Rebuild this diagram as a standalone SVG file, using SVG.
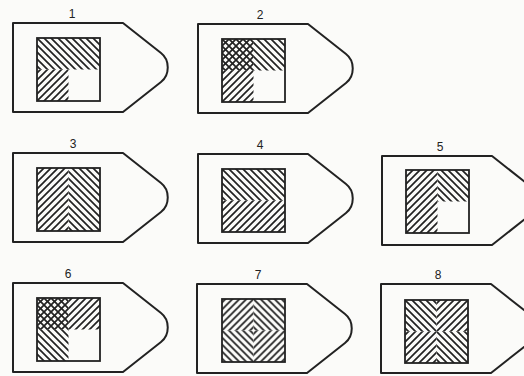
<svg xmlns="http://www.w3.org/2000/svg" width="524" height="376" viewBox="0 0 524 376">
<style>
.bg{fill:#fbfbf9}
.tag{fill:#fbfbf9;stroke:#222;stroke-width:2;stroke-linejoin:round}
.sq{fill:none;stroke:#222;stroke-width:1.8}
.h{stroke:#222;stroke-width:1.7;fill:none}
.lbl{font-family:"Liberation Sans",Arial,sans-serif;font-size:12px;fill:#222;text-anchor:middle}
</style>
<defs>
<path id="tagShape" d="M0,0 H110 L148,30 C157,37 157,52 148,59 L110,89 H0 Z"/>
<pattern id="hb" width="7" height="7" patternUnits="userSpaceOnUse"><path class="h" d="M-1,-1 L8,8 M-1,6 L1,8 M6,-1 L8,1"/></pattern>
<pattern id="hf" width="7" height="7" patternUnits="userSpaceOnUse"><path class="h" d="M-1,8 L8,-1 M-1,1 L1,-1 M6,8 L8,6"/></pattern>
<pattern id="hb2" width="7" height="7" patternUnits="userSpaceOnUse" patternTransform="translate(3.5,0)"><path class="h" d="M-1,-1 L8,8 M-1,6 L1,8 M6,-1 L8,1"/></pattern>
<pattern id="hf2" width="7" height="7" patternUnits="userSpaceOnUse" patternTransform="translate(3.5,0)"><path class="h" d="M-1,8 L8,-1 M-1,1 L1,-1 M6,8 L8,6"/></pattern>
</defs>
<rect class="bg" x="0" y="0" width="524" height="376"/>

<g id="node1">
<use href="#tagShape" class="tag" transform="translate(13,23)"/>
<text class="lbl" x="72" y="18">1</text>
<g transform="translate(37,38)">
<rect x="0" y="0" width="63" height="31.5" fill="url(#hb)"/>
<rect x="0" y="31.5" width="31.5" height="31.5" fill="url(#hf)"/>
<rect class="sq" x="0" y="0" width="63" height="63"/>
</g>
</g>

<g id="node2">
<use href="#tagShape" class="tag" transform="translate(198,24)"/>
<text class="lbl" x="260" y="19">2</text>
<g transform="translate(222,39)">
<rect x="0" y="0" width="31.5" height="31.5" fill="url(#hb)"/>
<rect x="0" y="0" width="31.5" height="31.5" fill="url(#hf)"/>
<rect x="31.5" y="0" width="31.5" height="31.5" fill="url(#hb)"/>
<rect x="0" y="31.5" width="31.5" height="31.5" fill="url(#hf)"/>
<rect class="sq" x="0" y="0" width="63" height="63"/>
</g>
</g>

<g id="node3">
<use href="#tagShape" class="tag" transform="translate(13,153)"/>
<text class="lbl" x="73" y="148">3</text>
<g transform="translate(37,168)">
<rect x="0" y="0" width="31.5" height="63" fill="url(#hf)"/>
<rect x="31.5" y="0" width="31.5" height="63" fill="url(#hb)"/>
<rect class="sq" x="0" y="0" width="63" height="63"/>
</g>
</g>

<g id="node4">
<use href="#tagShape" class="tag" transform="translate(198,154)"/>
<text class="lbl" x="260" y="149">4</text>
<g transform="translate(222,169)">
<rect x="0" y="0" width="63" height="31.5" fill="url(#hb)"/>
<rect x="0" y="31.5" width="63" height="31.5" fill="url(#hf)"/>
<rect class="sq" x="0" y="0" width="63" height="63"/>
</g>
</g>

<g id="node5">
<use href="#tagShape" class="tag" transform="translate(382,156)"/>
<text class="lbl" x="440" y="151">5</text>
<g transform="translate(406,170)">
<rect x="0" y="0" width="31.5" height="63" fill="url(#hf)"/>
<rect x="31.5" y="0" width="31.5" height="31.5" fill="url(#hb)"/>
<rect class="sq" x="0" y="0" width="63" height="63"/>
</g>
</g>

<g id="node6">
<use href="#tagShape" class="tag" transform="translate(13,283)"/>
<text class="lbl" x="68" y="278">6</text>
<g transform="translate(37,298)">
<rect x="0" y="0" width="31.5" height="31.5" fill="url(#hb)"/>
<rect x="0" y="0" width="31.5" height="31.5" fill="url(#hf)"/>
<rect x="31.5" y="0" width="31.5" height="31.5" fill="url(#hf)"/>
<rect x="0" y="31.5" width="31.5" height="31.5" fill="url(#hb)"/>
<rect class="sq" x="0" y="0" width="63" height="63"/>
</g>
</g>

<g id="node7">
<use href="#tagShape" class="tag" transform="translate(197,284)"/>
<text class="lbl" x="258" y="279">7</text>
<g transform="translate(222,299)">
<rect x="0" y="0" width="31.5" height="31.5" fill="url(#hf2)"/>
<rect x="31.5" y="0" width="31.5" height="31.5" fill="url(#hb2)"/>
<rect x="0" y="31.5" width="31.5" height="31.5" fill="url(#hb2)"/>
<rect x="31.5" y="31.5" width="31.5" height="31.5" fill="url(#hf2)"/>
<rect class="sq" x="0" y="0" width="63" height="63"/>
</g>
</g>

<g id="node8">
<use href="#tagShape" class="tag" transform="translate(381,284)"/>
<text class="lbl" x="438" y="279">8</text>
<g transform="translate(405,300)">
<rect x="0" y="0" width="31.5" height="31.5" fill="url(#hb)"/>
<rect x="31.5" y="0" width="31.5" height="31.5" fill="url(#hf)"/>
<rect x="0" y="31.5" width="31.5" height="31.5" fill="url(#hf)"/>
<rect x="31.5" y="31.5" width="31.5" height="31.5" fill="url(#hb)"/>
<rect class="sq" x="0" y="0" width="63" height="63"/>
</g>
</g>
</svg>
